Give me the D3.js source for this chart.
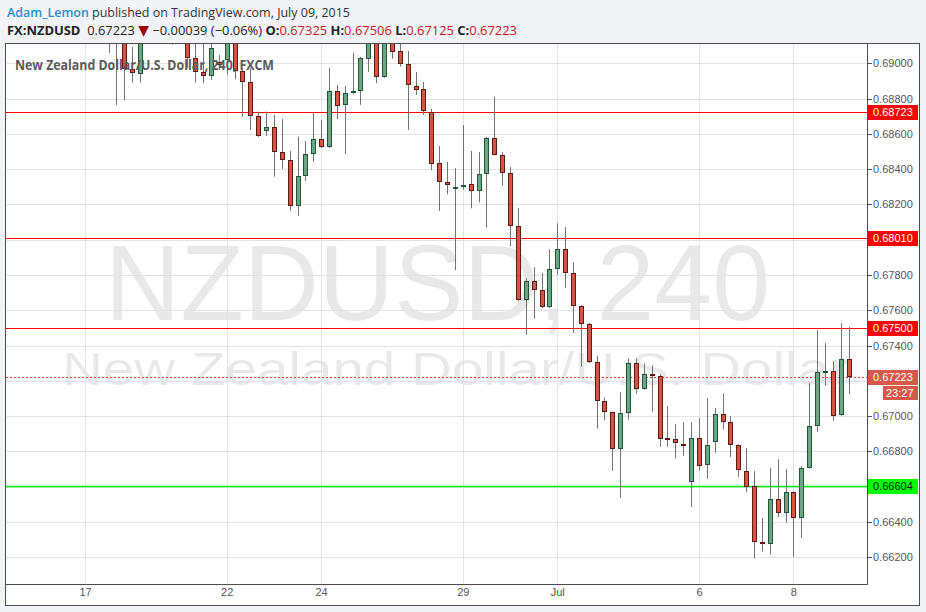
<!DOCTYPE html>
<html><head><meta charset="utf-8">
<script src="https://cdn.jsdelivr.net/npm/d3@7"></script>
<style>
html,body{margin:0;padding:0;background:#f1f3f7;}
svg{display:block;}
</style></head><body>
<svg id="chart" width="926" height="612"></svg>
<script>
// ---- DATA (4h bars, FX:NZDUSD, FXCM) ----
const firstBar = 3; // index of first bar below, counted from the first bar of Jun 17
const open  = [0.6930,0.6926,0.6920,0.68966,0.68943,0.6918,0.6925,0.6932,0.6922,0.6918,
  0.6922,0.69028,0.68949,0.68926,0.69009,0.69019,0.6916,0.68958,0.68896,0.68703,
  0.68614,0.68637,0.68495,0.68452,0.68191,0.68360,0.68484,0.68571,0.68524,0.68843,
  0.68760,0.68830,0.68839,0.69028,0.6914,0.68924,0.6915,0.69068,0.68994,0.68873,
  0.68853,0.68726,0.68433,0.68325,0.68291,0.68303,0.68314,0.68273,0.68371,0.68575,
  0.68478,0.68376,0.68076,0.67656,0.67764,0.67713,0.67617,0.67832,0.67945,0.67809,
  0.67622,0.67520,0.67305,0.67084,0.67021,0.66811,0.67016,0.67299,0.67152,0.67237,
  0.67229,0.66875,0.66868,0.66845,0.66628,0.66879,0.66721,0.66851,0.67010,0.66965,
  0.66834,0.66690,0.66602,0.66286,0.66278,0.66531,0.66449,0.66568,0.66418,0.66704,
  0.66942,0.67246,0.67255,0.67002,0.67325];
const high  = [0.6934,0.6932,0.6925,0.69094,0.6922,0.6930,0.6938,0.6936,0.6928,0.6928,
  0.6926,0.6912,0.6913,0.6912,0.69047,0.6922,0.6921,0.68972,0.68972,0.68726,
  0.68726,0.68707,0.68684,0.68503,0.68584,0.68559,0.68722,0.68679,0.68975,0.68877,
  0.68871,0.69060,0.69037,0.6918,0.6920,0.6918,0.6920,0.6912,0.69070,0.68951,
  0.68894,0.68741,0.68531,0.68440,0.68405,0.68650,0.68503,0.68497,0.68582,0.68811,
  0.68497,0.68412,0.68180,0.67781,0.67845,0.67811,0.67947,0.68093,0.68072,0.67872,
  0.67630,0.67527,0.67340,0.67106,0.67025,0.67135,0.67327,0.67327,0.67299,0.67289,
  0.67238,0.67057,0.66955,0.66966,0.66966,0.66989,0.67102,0.67047,0.67129,0.67000,
  0.66841,0.66819,0.66688,0.66422,0.66705,0.66756,0.66700,0.66575,0.66718,0.67187,
  0.67488,0.67414,0.67312,0.67527,0.67506];
const low   = [0.69058,0.68764,0.68792,0.68890,0.68890,0.6914,0.6918,0.6917,0.69105,0.6914,
  0.68975,0.68890,0.68887,0.68905,0.68962,0.68935,0.68909,0.68697,0.68622,0.68583,
  0.68588,0.68357,0.68401,0.68163,0.68136,0.68333,0.68442,0.68520,0.68520,0.68684,
  0.68486,0.68824,0.68764,0.68952,0.68887,0.68918,0.69026,0.68981,0.68622,0.68820,
  0.68707,0.68395,0.68163,0.68257,0.67828,0.68284,0.68178,0.68211,0.68069,0.68478,
  0.68306,0.67962,0.67652,0.67463,0.67552,0.67612,0.67614,0.67801,0.67728,0.67472,
  0.67280,0.67301,0.66930,0.66978,0.66690,0.66537,0.66981,0.67127,0.67150,0.67025,
  0.66826,0.66826,0.66760,0.66775,0.66484,0.66690,0.66645,0.66792,0.66925,0.66769,
  0.66656,0.66571,0.66193,0.66233,0.66214,0.66429,0.66397,0.66202,0.66310,0.66702,
  0.66911,0.67172,0.66974,0.67000,0.67125];
const close = [0.6926,0.6920,0.68966,0.68943,0.6918,0.6925,0.6932,0.6922,0.6918,0.6922,
  0.69028,0.68947,0.68926,0.69085,0.68994,0.6916,0.68958,0.68896,0.68703,0.68588,
  0.68637,0.68495,0.68452,0.68191,0.68363,0.68484,0.68571,0.68524,0.68843,0.68760,
  0.68830,0.68843,0.69028,0.6914,0.68924,0.6915,0.69066,0.68994,0.68873,0.68853,
  0.68726,0.68433,0.68325,0.68308,0.68300,0.68313,0.68273,0.68371,0.68576,0.68478,
  0.68376,0.68076,0.67654,0.67764,0.67713,0.67614,0.67832,0.67945,0.67809,0.67622,
  0.67520,0.67305,0.67084,0.67021,0.66811,0.67016,0.67299,0.67152,0.67237,0.67225,
  0.66874,0.66868,0.66843,0.66832,0.66879,0.66721,0.66834,0.67010,0.66965,0.66834,
  0.66690,0.66600,0.66284,0.66278,0.66531,0.66449,0.66568,0.66418,0.66704,0.66942,
  0.67248,0.67254,0.67002,0.67322,0.67223];
const dayTickBars   = [0, 18, 30, 48, 60, 78, 90];
const dayTickLabels = ["17", "22", "24", "29", "Jul", "6", "8"];
const priceTicks = [0.662,0.664,0.666,0.668,0.670,0.672,0.674,0.676,0.678,0.680,0.682,0.684,0.686,0.688,0.690];
const resistanceLevels = [0.68723, 0.68010, 0.67500];
const supportLevels = [0.66604];
const lastPrice = 0.67223;
const barCountdown = "23:27";
const headerAuthor = "Adam_Lemon";
const headerPublished = " published on TradingView.com, July 09, 2015";
const symbolTitle = "New Zealand Dollar/U.S. Dollar, 240, FXCM";
const watermark1 = "NZDUSD, 240";
const watermark2 = "New Zealand Dollar/U.S. Dollar";

const bars = open.map((o, k) => ({i: k + firstBar, o, h: high[k], l: low[k], c: close[k]}));

// ---- LAYOUT ----
const svg = d3.select("#chart");
const frame = {l: 5.5, t: 43.5, r: 919.5, b: 605.5};
const plot = {l: 6, t: 44, r: 867, b: 584};

const x = d3.scaleLinear().domain([0, 97]).range([85, 848.5]);
const y = d3.scaleLinear().domain([0.662, 0.690]).range([557.3, 63.3]);

// header
const h1 = svg.append("text").attr("x", 7).attr("y", 17)
  .attr("font-family", "Open Sans, sans-serif").attr("font-size", 13)
  .attr("textLength", 343).attr("lengthAdjust", "spacingAndGlyphs");
h1.append("tspan").attr("fill", "#2e8ecf").attr("font-weight", 600).text(headerAuthor);
h1.append("tspan").attr("fill", "#333").text(headerPublished);

const h2 = svg.append("text").attr("x", 7).attr("y", 35)
  .attr("font-family", "Open Sans, sans-serif").attr("font-size", 13).attr("fill", "#222")
  .attr("textLength", 510).attr("lengthAdjust", "spacingAndGlyphs");
const redTxt = "#c8161d";
h2.append("tspan").attr("font-weight", 700).text("FX:NZDUSD");
h2.append("tspan").text("\u00a0 0.67223 ");
h2.append("tspan").attr("fill", "#a00000").attr("font-family", "DejaVu Sans").attr("font-size", 14).text("\u25bc");
h2.append("tspan").text(" \u22120.00039 (\u22120.06%) ");
[["O:", 0.67325], [" H:", 0.67506], [" L:", 0.67125], [" C:", 0.67223]].forEach(([k, v]) => {
  h2.append("tspan").attr("font-weight", 700).text(k);
  h2.append("tspan").attr("fill", redTxt).text(v.toFixed(5));
});

// frame
svg.append("rect").attr("x", frame.l).attr("y", frame.t)
  .attr("width", frame.r - frame.l).attr("height", frame.b - frame.t)
  .attr("fill", "#fff").attr("stroke", "#4d4d4d").attr("stroke-width", 1);

svg.append("defs").append("clipPath").attr("id", "plotclip")
  .append("rect").attr("x", plot.l).attr("y", plot.t)
  .attr("width", plot.r - plot.l).attr("height", plot.b - plot.t);

const g = svg.append("g").attr("clip-path", "url(#plotclip)");

// watermark
g.append("text").attr("x", 105).attr("y", 320)
  .attr("font-family", "Liberation Sans, Arial, sans-serif").attr("font-size", 107)
  .attr("fill", "#000").attr("fill-opacity", 0.09)
  .attr("textLength", 665).attr("lengthAdjust", "spacingAndGlyphs").text(watermark1);
g.append("text").attr("x", 62).attr("y", 385)
  .attr("font-family", "Liberation Sans, Arial, sans-serif").attr("font-size", 46)
  .attr("fill", "#000").attr("fill-opacity", 0.09)
  .attr("textLength", 786).attr("lengthAdjust", "spacingAndGlyphs").text(watermark2);

// grid
const crisp = v => Math.round(v) + 0.5;
g.selectAll("line.hgrid").data(priceTicks).join("line").attr("class", "hgrid")
  .attr("x1", plot.l).attr("x2", plot.r)
  .attr("y1", d => crisp(y(d))).attr("y2", d => crisp(y(d)))
  .attr("stroke", "#e3e3e3");
g.selectAll("line.vgrid").data(dayTickBars).join("line").attr("class", "vgrid")
  .attr("y1", plot.t).attr("y2", plot.b)
  .attr("x1", d => crisp(x(d))).attr("x2", d => crisp(x(d)))
  .attr("stroke", "#e3e3e3");

// title inside plot
svg.append("text").attr("x", 15).attr("y", 70)
  .attr("font-family", "Open Sans, sans-serif").attr("font-size", 13.5).attr("font-weight", 700)
  .attr("fill", "#5a5a5a").attr("textLength", 259).attr("lengthAdjust", "spacingAndGlyphs")
  .text(symbolTitle);

// horizontal levels
g.selectAll("line.res").data(resistanceLevels).join("line").attr("class", "res")
  .attr("x1", plot.l).attr("x2", plot.r)
  .attr("y1", d => crisp(y(d))).attr("y2", d => crisp(y(d)))
  .attr("stroke", "#ff0000");
g.selectAll("line.sup").data(supportLevels).join("line").attr("class", "sup")
  .attr("x1", plot.l).attr("x2", plot.r)
  .attr("y1", d => crisp(y(d))).attr("y2", d => crisp(y(d)))
  .attr("stroke", "#00ee00").attr("stroke-width", 1.3);
g.append("line").attr("x1", plot.l).attr("x2", plot.r)
  .attr("y1", crisp(y(lastPrice))).attr("y2", crisp(y(lastPrice)))
  .attr("stroke", "#ff3b2f").attr("stroke-dasharray", "2,2");

// candles
const upFill = "#6ba583", upLine = "#225437", dnFill = "#d75442", dnLine = "#5b1a13";
const cg = g.append("g");
const cand = cg.selectAll("g.c").data(bars).join("g").attr("class", "c");
cand.append("line")
  .attr("x1", d => Math.round(x(d.i)) + 0.5).attr("x2", d => Math.round(x(d.i)) + 0.5)
  .attr("y1", d => y(d.h)).attr("y2", d => y(d.l))
  .attr("stroke", "#737375");
cand.append("rect")
  .attr("x", d => Math.round(x(d.i)) - 1.5).attr("width", 4)
  .attr("y", d => Math.round(y(Math.max(d.o, d.c))) + 0.5)
  .attr("height", d => Math.max(1, Math.round(Math.abs(y(d.o) - y(d.c))) - 1))
  .attr("fill", d => d.c >= d.o ? upFill : dnFill)
  .attr("stroke", d => d.c >= d.o ? upLine : dnLine);

// plot borders
svg.append("line").attr("x1", plot.r + 0.5).attr("x2", plot.r + 0.5)
  .attr("y1", frame.t).attr("y2", plot.b + 0.5).attr("stroke", "#4d4d4d");
svg.append("line").attr("x1", frame.l).attr("x2", plot.r + 0.5)
  .attr("y1", plot.b + 0.5).attr("y2", plot.b + 0.5).attr("stroke", "#4d4d4d");

// right price axis
const axisFont = "Liberation Sans, Arial, sans-serif";
const boxLevels = resistanceLevels.concat(supportLevels, [lastPrice]);
const shownTicks = priceTicks.filter(p => boxLevels.every(b => Math.abs(y(p) - y(b)) > 12) &&
  Math.abs(y(p) - (y(lastPrice) + 16)) > 10);
const ax = svg.append("g");
ax.selectAll("line").data(shownTicks).join("line")
  .attr("x1", plot.r + 1).attr("x2", plot.r + 5)
  .attr("y1", d => crisp(y(d))).attr("y2", d => crisp(y(d))).attr("stroke", "#555");
ax.selectAll("text").data(shownTicks).join("text")
  .attr("x", 873).attr("y", d => y(d) + 4)
  .attr("font-family", axisFont).attr("font-size", 11).attr("fill", "#555")
  .text(d => d.toFixed(5));

function priceBox(v, fill, textFill) {
  const yy = Math.round(y(v));
  svg.append("rect").attr("x", plot.r + 1).attr("y", yy - 7).attr("width", 50).attr("height", 15)
    .attr("fill", fill);
  svg.append("text").attr("x", 873).attr("y", yy + 4)
    .attr("font-family", axisFont).attr("font-size", 11).attr("fill", textFill)
    .text(v.toFixed(5));
}
resistanceLevels.forEach(v => priceBox(v, "#ff0000", "#fff"));
supportLevels.forEach(v => priceBox(v, "#00ff00", "#111"));
priceBox(lastPrice, "#d9574a", "#fff");
{
  const yy = Math.round(y(lastPrice)) + 9;
  svg.append("rect").attr("x", 883).attr("y", yy).attr("width", 35).attr("height", 14).attr("fill", "#d9574a");
  svg.append("text").attr("x", 886).attr("y", yy + 11)
    .attr("font-family", axisFont).attr("font-size", 11).attr("fill", "#fff").text(barCountdown);
}

// bottom time axis
svg.append("g").selectAll("text").data(dayTickBars).join("text")
  .attr("x", d => x(d) + 0.5).attr("y", 596).attr("text-anchor", "middle")
  .attr("font-family", axisFont).attr("font-size", 11).attr("fill", "#555")
  .text((d, k) => dayTickLabels[k]);
</script>
</body></html>
